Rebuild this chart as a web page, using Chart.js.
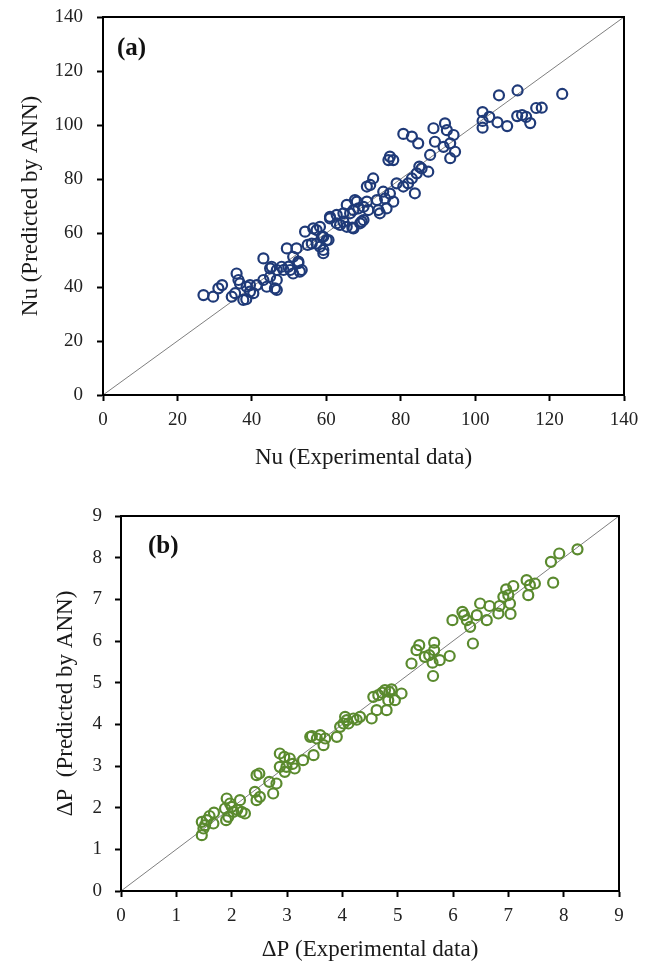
<!DOCTYPE html>
<html>
<head>
<meta charset="utf-8">
<script src="https://cdn.jsdelivr.net/npm/chart.js@4.4.0/dist/chart.umd.min.js"></script>
<style>
  body { margin: 0; background: #fff; }
  #wrap { position: relative; width: 653px; height: 964px; }
  canvas { position: absolute; left: 0; }
  #chartA { top: 0; }
  #chartB { top: 482px; }
</style>
</head>
<body>
<div id="wrap">
  <canvas id="chartA" width="653" height="482"></canvas>
  <canvas id="chartB" width="653" height="482"></canvas>
</div>
<script>
// ==== data (a) Nu
const nuExp = [27, 29.6, 31, 32, 34.6, 35.9, 36.4, 35.5, 36.8, 37.7, 38.6, 39.5, 38.5, 39.5, 40.4, 41.3,
  43.1, 44.9, 46.7, 48, 44, 46.2, 46.7, 46.7, 43.1, 44.9, 45.3, 49.4, 52, 50.3, 52.5, 52.9, 51.1, 52.5,
  53.4, 49.8, 51.1, 48.5, 54.3, 57.4, 59.2, 56.1, 58.3, 59.2, 60.1, 56.5, 58.3, 57.4, 59.2, 60.6, 58.8,
  55, 61, 62.8, 64.6, 67.3, 68.2, 62.8, 65.5, 67.3, 69.1, 64.6, 61, 63.7, 69.5, 66.4, 65.5, 67.7, 68.6,
  70.9, 71.3, 70, 70, 70.9, 72.6, 71.8, 73.6, 75.8, 78, 74, 76.2, 77.1, 74.4, 75.3, 77.1, 78, 76.7, 78.9,
  80.7, 83, 84.3, 85.6, 87.4, 83.8, 82, 80.7, 83, 84.7, 88.8, 91.9, 92.4, 94.2, 89.2, 91.5, 93.3, 94.6,
  93.3, 87.9, 102, 102, 102, 103.8, 106, 108.6, 111.3, 112.6, 113.7, 114.8, 116.4, 117.9, 106.4, 111.4,
  123.4, 85, 67];
const nuAnn = [37, 36.4, 39.5, 40.7, 36.4, 45, 42.6, 37.7, 41.3, 35.2, 40.1, 38.3, 35.5, 40.7, 37.7, 40.7,
  50.6, 46.9, 46.3, 47.5, 40.1, 39.5, 42.6, 38.9, 42.6, 43.8, 47.5, 54.3, 54.3, 46.3, 48.8, 45.7, 51.2, 49.4,
  46.3, 47.5, 45, 46.3, 60.5, 61.1, 58.6, 56.1, 54.9, 52.5, 57.4, 61.7, 62.3, 56.1, 53.7, 57.4, 58.6,
  55.6, 66, 66.7, 67.3, 68.5, 71.6, 63.6, 62.3, 61.7, 63.6, 64.2, 65.4, 63, 64.2, 67.3, 70.4, 72.2, 69.1,
  71.6, 68.5, 64.8, 69.7, 77.2, 80.2, 77.8, 72.2, 72.8, 71.6, 68.5, 69.1, 74.6, 67.3, 75.3, 88.3, 87, 87, 78.4,
  77.2, 80.2, 82.1, 83.9, 82.7, 74.7, 78.4, 96.7, 95.7, 93.2, 98.8, 100.6, 98.1, 96.3, 93.8, 91.9, 93.2, 90.1,
  87.7, 88.9, 104.8, 101.5, 99, 103, 101, 99.6, 103.3, 103.7, 103, 100.7, 106.3, 106.4, 111, 112.8,
  111.5, 84.6, 62];
const nuTicks = [0, 20, 40, 60, 80, 100, 120, 140];

// ==== data (b) dP
const dpExp = [1.46, 1.49, 1.46, 1.55, 1.52, 1.67, 1.68, 1.91, 1.97, 1.88, 1.94, 2.03, 1.90, 2.18, 2.15, 2.24,
  2.45, 2.50, 2.42, 2.45, 2.51, 2.68, 2.75, 2.81, 2.87, 2.95, 2.87, 3.05, 2.99, 2.96, 3.14, 3.29, 3.48,
  3.42, 3.54, 3.60, 3.69, 3.66, 3.90, 4.05, 4.02, 4.11, 4.20, 4.26, 4.08, 4.32, 4.53, 4.56, 4.62, 4.80,
  4.65, 4.77, 4.89, 4.83, 4.95, 5.07, 5.25, 5.39, 5.34, 5.66, 5.66, 5.57, 5.49, 5.63, 5.64, 5.76, 5.94,
  6.17, 6.20, 5.99, 6.31, 6.43, 6.25, 6.36, 6.49, 6.66, 6.84, 6.82, 6.61, 7.03, 7.04, 7.09, 6.96, 7.00,
  6.91, 7.33, 7.39, 7.48, 7.36, 7.81, 7.77, 7.92, 8.25, 3.96, 1.60, 2.00, 2.10, 3.10, 3.45, 4.72, 4.85];
const dpAnn = [1.34, 1.50, 1.66, 1.70, 1.58, 1.62, 1.88, 2.22, 2.10, 1.98, 1.78, 1.90, 1.70, 1.90, 2.18, 1.86,
  2.78, 2.82, 2.38, 2.18, 2.26, 2.62, 2.34, 2.58, 3.30, 3.22, 2.98, 3.18, 2.98, 2.86, 2.94, 3.14, 3.26,
  3.70, 3.66, 3.74, 3.66, 3.50, 3.70, 4.18, 4.02, 4.02, 4.14, 4.11, 4.10, 4.18, 4.14, 4.66, 4.34, 4.34,
  4.70, 4.82, 4.84, 4.58, 4.58, 4.74, 5.46, 5.90, 5.78, 5.96, 5.78, 5.66, 5.62, 5.48, 5.16, 5.54, 5.64,
  6.70, 6.62, 6.50, 6.34, 6.62, 6.50, 5.94, 6.90, 6.84, 6.84, 6.66, 6.50, 6.90, 6.65, 7.32, 7.24, 7.10,
  7.06, 7.46, 7.34, 7.38, 7.10, 7.40, 7.90, 8.10, 8.20, 3.94, 1.80, 2.02, 1.95, 3.05, 3.72, 4.76, 4.78];
const dpTicks = [0, 1, 2, 3, 4, 5, 6, 7, 8, 9];

const serif = "'Times New Roman', 'Liberation Serif', serif";

function pts(xs, ys) {
  return xs.map((x, i) => ({ x: x, y: ys[i] }));
}

// black frame + panel letter
const framePlugin = {
  id: 'frame',
  afterDraw(chart, args, opts) {
    const a = chart.chartArea;
    const ctx = chart.ctx;
    ctx.save();
    ctx.strokeStyle = '#000';
    ctx.lineWidth = 2;
    ctx.strokeRect(a.left, a.top, a.right - a.left, a.bottom - a.top);
    ctx.font = 'bold 25px ' + serif;
    ctx.fillStyle = '#111';
    ctx.textBaseline = 'middle';
    ctx.fillText(opts.letter, a.left + opts.dx, a.top + opts.dy);
    ctx.restore();
  }
};

function makeChart(id, cfg) {
  const ticks = cfg.ticks;
  const axis = (title, fit, tpad, which) => ({
    type: 'linear',
    min: ticks[0],
    max: ticks[ticks.length - 1],
    afterBuildTicks: (s) => { s.ticks = ticks.map(v => ({ value: v })); },
    border: { display: true, color: '#000', width: 2 },
    grid: { display: true, drawOnChartArea: false, drawTicks: true, tickLength: 6, tickColor: '#000', tickWidth: 2 },
    ticks: { color: '#222', padding: which === 'x' ? cfg.xTickPad : cfg.yTickPad, font: { family: serif, size: 19 } },
    title: { display: true, text: title, color: '#1a1a1a', font: { family: serif, size: 23 }, padding: tpad },
    afterFit: (s) => {
      fit(s);
      // keep the plot box where the layout padding puts it
      s.paddingTop = 0; s.paddingBottom = 0; s.paddingLeft = 0; s.paddingRight = 0;
    }
  });
  return new Chart(document.getElementById(id), {
    type: 'scatter',
    data: {
      datasets: [{
        data: pts(cfg.xs, cfg.ys),
        pointStyle: 'circle',
        pointRadius: 5,
        pointBorderWidth: 2.2,
        pointBackgroundColor: 'rgba(0,0,0,0)',
        pointBorderColor: cfg.color,
        order: 1
      }, {
        type: 'line',
        data: pts(cfg.diag, cfg.diag),
        borderColor: '#7f7f7f',
        borderWidth: 1,
        pointRadius: 0,
        order: 2
      }]
    },
    options: {
      responsive: false,
      animation: false,
      layout: { padding: cfg.pad },
      plugins: {
        legend: { display: false },
        tooltip: { enabled: false },
        frame: cfg.letter
      },
      scales: {
        x: axis(cfg.xTitle, (s) => { s.height = cfg.xH; }, { top: 0, bottom: cfg.xTitlePad }, 'x'),
        y: axis(cfg.yTitle, (s) => { s.width = cfg.yW; }, { top: cfg.yTitlePad, bottom: 0 }, 'y')
      }
    },
    plugins: [framePlugin]
  });
}

makeChart('chartA', {
  xs: nuExp, ys: nuAnn, diag: [0, 140], ticks: nuTicks, color: '#1f3a78',
  xTitle: 'Nu (Experimental data)', yTitle: 'Nu (Predicted by ANN)',
  pad: { top: 17, right: 29, left: 0, bottom: 0 },
  xH: 87, yW: 103, xTitlePad: 10, yTitlePad: 17, xTickPad: 8, yTickPad: 14,
  letter: { letter: '(a)', dx: 14, dy: 32 }
});

makeChart('chartB', {
  xs: dpExp, ys: dpAnn, diag: [0, 9], ticks: dpTicks, color: '#5a8a2e',
  xTitle: '\u0394P (Experimental data)', yTitle: '\u0394P  (Predicted by ANN)',
  pad: { top: 34, right: 34, left: 0, bottom: 0 },
  xH: 73, yW: 121, xTitlePad: 0, yTitlePad: 52, xTickPad: 8, yTickPad: 13,
  letter: { letter: '(b)', dx: 27, dy: 31 }
});
</script>
</body>
</html>
